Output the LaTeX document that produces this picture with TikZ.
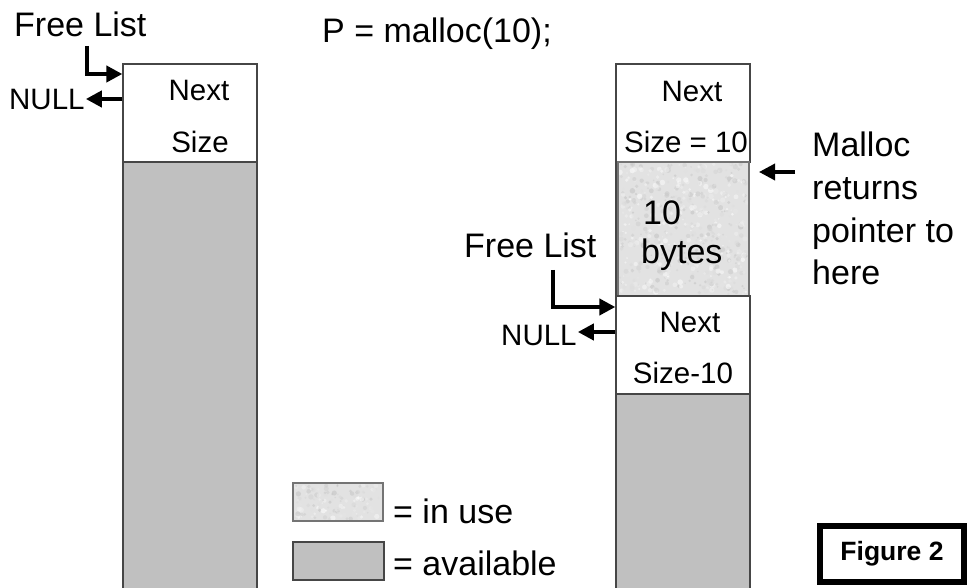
\documentclass[tikz,border=0pt]{standalone}
\usepackage{fontspec}
\setmainfont{Liberation Sans}
\usetikzlibrary{arrows.meta}

\definecolor{avail}{RGB}{192,192,192}
\definecolor{inuse}{RGB}{226,226,226}
\definecolor{rim}{RGB}{70,70,70}

% speckled light fill for blocks that are in use: x1, y1, x2, y2, number of specks
\newcommand{\speckbox}[5]{%
  \fill[inuse] (#1,#2) rectangle (#3,#4);
  \foreach \k in {1,...,#5}{%
    \pgfmathsetmacro{\sx}{#1+2+(#3-#1-4)*rnd}%
    \pgfmathsetmacro{\sy}{#2+2+(#4-#2-4)*rnd}%
    \pgfmathsetmacro{\sg}{76+24*rnd}%
    \pgfmathsetmacro{\sr}{0.8+2.0*rnd}%
    \fill[white!\sg!black, opacity=0.55] (\sx,\sy) circle[radius=\sr pt];
  }%
  \draw[rim!75, line width=1.3pt] (#1,#2) rectangle (#3,#4);
}

\tikzset{
  big/.style={font=\fontsize{34}{40}\selectfont, inner sep=0pt, anchor=base west},
  small/.style={font=\fontsize{29.5}{34}\selectfont, inner sep=0pt, anchor=base},
  smallw/.style={font=\fontsize{29.5}{34}\selectfont, inner sep=0pt, anchor=base west},
  hdr/.style={draw=rim, line width=1.3pt, fill=white, minimum width=134pt, minimum height=98pt, inner sep=0pt},
  ptr/.style={line width=4pt, -{Triangle[length=16pt,width=16pt]}},
  edge/.style={draw=rim, line width=1.6pt},
}

\begin{document}
\begin{tikzpicture}[x=1pt, y=-1pt]
\pgfmathsetseed{11}
\useasboundingbox (0,0) rectangle (967,588);

% ---- left column: one free block ----
\fill[avail] (123,162) rectangle (257,588);
\draw[edge] (123,162) -- (123,588);
\draw[edge] (257,162) -- (257,588);
\node[hdr] (lhead) at (190,113) {};
\node[small] (lnext) at (199,101) {Next};
\node[small] (lsize) at (200,153) {Size};

\node[big] (lfree) at (14,37) {Free List};
\node[smallw] (lnull) at (9,110) {NULL};
\coordinate (lflstart) at (87,46);
\draw[ptr] (lflstart) |- (lhead.west |- 0,74);
\draw[ptr] (lhead.west |- 0,99) -- ([xshift=1pt]lnull.east |- 0,99);

% ---- call ----
\node[big] (call) at (322,43) {P = malloc(10);};

% ---- right column: split block ----
\fill[avail] (616,394) rectangle (750,588);
\draw[edge] (616,64) -- (616,588);
\draw[edge] (750,394) -- (750,588);
\node[hdr] (rtop) at (683,113) {};
\speckbox{618}{162}{749}{296}{650}
\node[hdr] (rlow) at (683,345) {};

\node[small] (rnext) at (692,102) {Next};
\node[small] (rsize) at (686,153) {Size = 10};
\node[big] (rten) at (643,225) {10};
\node[big] (rbytes) at (641,264) {bytes};
\node[small] (rnext2) at (690,332) {Next};
\node[small] (rsize2) at (683,383) {Size-10};

\node[big] (rfree) at (464,258) {Free List};
\node[smallw] (rnull) at (501,345) {NULL};
\coordinate (rflstart) at (553,270);
\draw[ptr] (rflstart) |- (rlow.west |- 0,307);
\draw[ptr] (rlow.west |- 0,332) -- ([xshift=1pt]rnull.east |- 0,332);

% ---- returned pointer ----
\node[big] (m1) at (812,157) {Malloc};
\node[big] (m2) at (812,200) {returns};
\node[big] (m3) at (812,243) {pointer to};
\node[big] (m4) at (812,285) {here};
\coordinate (mstart) at (795,172);
\coordinate (mtip) at (759,172);
\draw[ptr, line width=3.5pt] (mstart) -- (mtip);

% ---- legend ----
\speckbox{293}{483}{383}{521}{130}
\node[draw=rim, line width=1.2pt, fill=avail, minimum width=91pt, minimum height=38pt, inner sep=0pt] (lgavail) at (338.5,561) {};
\node[big] (lguse) at (393,523) {= in use};
\node[big] (lgfree) at (393,575) {= available};

% ---- figure tag ----
\node[draw, line width=6pt, minimum width=144pt, minimum height=56pt, inner sep=0pt,
      font=\fontsize{26.5}{30}\selectfont\bfseries] (fig) at (892,554) {Figure 2};
\end{tikzpicture}
\end{document}
